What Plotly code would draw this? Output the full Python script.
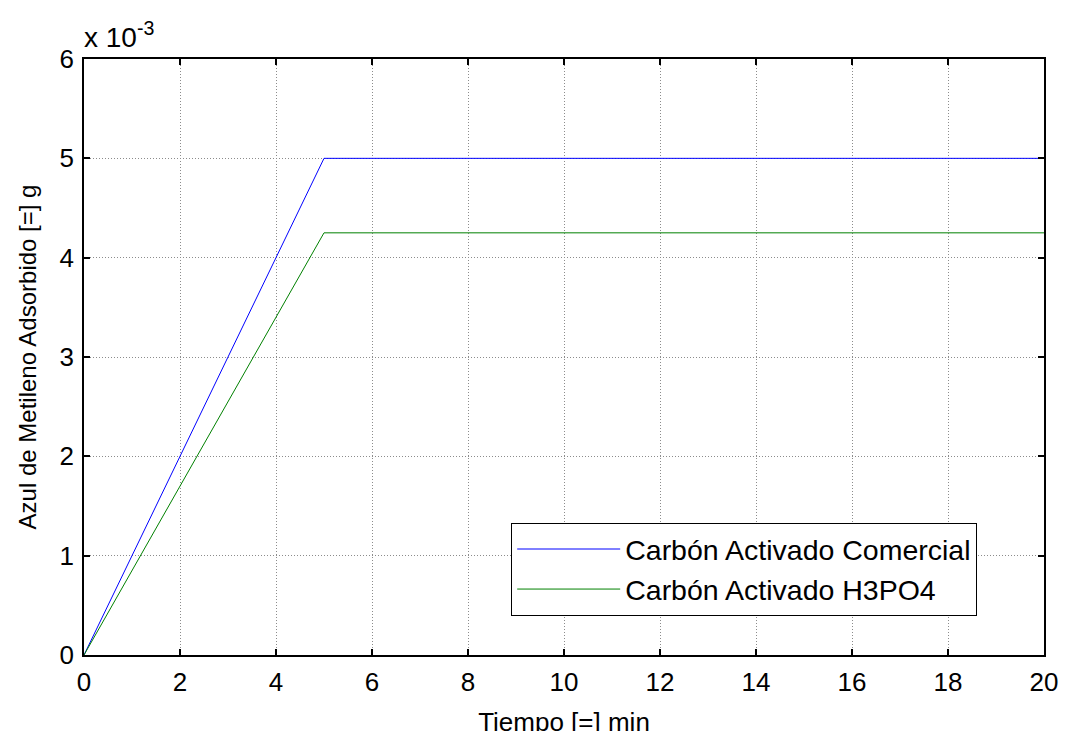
import plotly.graph_objects as go

# Data
tiempo = [0, 5, 20]
comercial = [0.0, 0.005, 0.005]
h3po4 = [0.0, 0.00425, 0.00425]
series_names = ["Carbón Activado Comercial", "Carbón Activado H3PO4"]
x_ticks = list(range(0, 21, 2))
y_tickvals = [0, 0.001, 0.002, 0.003, 0.004, 0.005, 0.006]
y_ticktext = ["0", "1", "2", "3", "4", "5", "6"]

FONT = "Liberation Sans, Arial, sans-serif"
FS = 26

fig = go.Figure()
fig.add_trace(go.Scatter(x=tiempo, y=comercial, mode="lines", name=series_names[0],
                         line=dict(color="rgb(0,0,255)", width=1)))
fig.add_trace(go.Scatter(x=tiempo, y=h3po4, mode="lines", name=series_names[1],
                         line=dict(color="rgb(0,128,0)", width=1)))

axis_common = dict(
    showline=True, linecolor="black", linewidth=1.5, mirror="allticks",
    ticks="inside", ticklen=6, tickcolor="black", tickwidth=1.5,
    showgrid=True, gridcolor="rgb(140,140,140)", griddash="1px,2px", gridwidth=1,
    zeroline=False, tickfont=dict(family=FONT, size=FS, color="black"),
    automargin=False,
)

fig.update_xaxes(range=[0, 20], tickvals=x_ticks,
                 title=dict(text="Tiempo [=] min", font=dict(family=FONT, size=FS, color="black"), standoff=17),
                 ticklabelstandoff=3, **axis_common)
fig.update_yaxes(range=[0, 0.006], tickvals=y_tickvals, ticktext=y_ticktext,
                 title=dict(text="Azul de Metileno Adsorbido [=] g", font=dict(family=FONT, size=24, color="black"), standoff=16),
                 ticklabelstandoff=3, **axis_common)

fig.add_annotation(text="x 10<sup>-3</sup>", xref="paper", yref="paper", x=0, y=1,
                   xanchor="left", yanchor="bottom", showarrow=False, yshift=4, xshift=-2,
                   font=dict(family=FONT, size=28, color="black"))

fig.update_layout(
    width=1071, height=731,
    margin=dict(l=76, r=35, t=51, b=84),
    paper_bgcolor="white", plot_bgcolor="white",
    font=dict(family=FONT, size=FS, color="black"),
    showlegend=True,
    legend=dict(x=0.445, y=0.2215, xanchor="left", yanchor="top",
                bgcolor="white", bordercolor="black", borderwidth=1,
                itemwidth=103, tracegroupgap=0,
                font=dict(family=FONT, size=28.5, color="black")),
)

fig.write_html("out.html")
